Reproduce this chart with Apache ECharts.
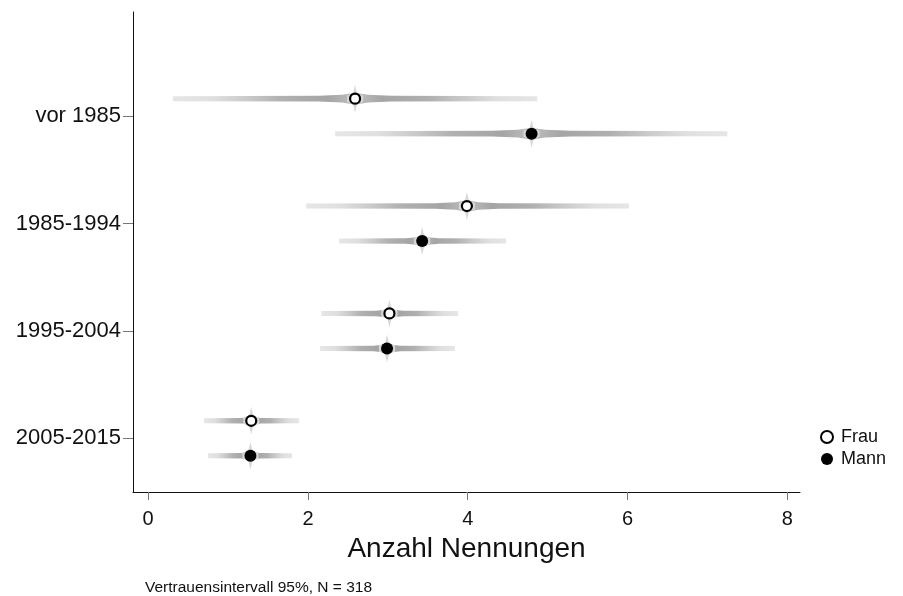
<!DOCTYPE html>
<html>
<head>
<meta charset="utf-8">
<script src="https://cdn.jsdelivr.net/npm/echarts@6/dist/echarts.min.js"></script>
<style>
  html, body { margin: 0; padding: 0; background: #fff; }
  #chart { width: 903px; height: 596px; }
</style>
</head>
<body>
<div id="chart"></div>
<script>
// Cohorts (top to bottom) and estimated mean number of mentions with interval bounds
const categories = ['vor 1985', '1985-1994', '1995-2004', '2005-2015'];
const frauEst = [2.59, 3.99, 3.02, 1.29];
const frauLo  = [0.31, 1.98, 2.17, 0.70];
const frauHi  = [4.87, 6.02, 3.88, 1.89];
const mannEst = [4.80, 3.43, 2.99, 1.28];
const mannLo  = [2.34, 2.39, 2.15, 0.75];
const mannHi  = [7.25, 4.48, 3.84, 1.80];
const xTicks = [0, 2, 4, 6, 8];
const catPos = [1, 2, 3, 4];

const FONT = '"Liberation Sans", Arial, sans-serif';
const SHIFT = 17.5; // vertical pixel shift between the two groups

// shading of an interval bar: pale at the bounds, darkest part toward the estimate
function gradient(reverse) {
  const stops = [
    { offset: 0.00, color: '#e6e6e6' },
    { offset: 0.22, color: '#dfdfdf' },
    { offset: 0.42, color: '#c8c8c8' },
    { offset: 0.60, color: '#b0b0b0' },
    { offset: 0.85, color: '#a5a5a5' },
    { offset: 0.95, color: '#b6b6b6' },
    { offset: 1.00, color: '#cbcbcb' }
  ];
  const s = reverse ? stops.map(d => ({ offset: 1 - d.offset, color: d.color })).reverse() : stops;
  return new echarts.graphic.LinearGradient(0, 0, 1, 0, s);
}

function makeBand(shift) {
  return function (params, api) {
    const cat = api.value(3);
    const pLo = api.coord([api.value(0), cat]);
    const pEst = api.coord([api.value(1), cat]);
    const pHi = api.coord([api.value(2), cat]);
    const y = pEst[1] + shift;
    const x = pEst[0], lx = pLo[0], rx = pHi[0];
    const L = x - lx, R = rx - x;
    const half = (from, d, sgn) => [
      [from, y - 2.5], [from + sgn * 0.8 * d, y - 2.8], [from + sgn * 0.93 * d, y - 3.8], [x, y - 6],
      [x, y + 6], [from + sgn * 0.93 * d, y + 3.8], [from + sgn * 0.8 * d, y + 2.8], [from, y + 2.5]
    ];
    const spike = [
      [x, y - 14], [x + 1.6, y - 7], [x + 3.5, y - 4.5], [x + 8, y - 3.2], [x + 8, y + 3.2], [x + 3.5, y + 4.5],
      [x + 1.6, y + 7], [x, y + 14], [x - 1.6, y + 7], [x - 3.5, y + 4.5], [x - 8, y + 3.2],
      [x - 8, y - 3.2], [x - 3.5, y - 4.5], [x - 1.6, y - 7]
    ];
    return {
      type: 'group',
      children: [
        { type: 'polygon', shape: { points: half(lx, L, 1) }, style: { fill: gradient(false) } },
        { type: 'polygon', shape: { points: half(rx, R, -1) }, style: { fill: gradient(true) } },
        { type: 'polygon', shape: { points: spike }, style: { fill: '#d8d8d8' } }
      ]
    };
  };
}

const frauBand = catPos.map((c, i) => [frauLo[i], frauEst[i], frauHi[i], c]);
const mannBand = catPos.map((c, i) => [mannLo[i], mannEst[i], mannHi[i], c]);
const frauPts = catPos.map((c, i) => [frauEst[i], c]);
const mannPts = catPos.map((c, i) => [mannEst[i], c]);

const chart = echarts.init(document.getElementById('chart'), null, { renderer: 'canvas' });
chart.setOption({
  animation: false,
  backgroundColor: '#ffffff',
  textStyle: { fontFamily: FONT },
  grid: { left: 133, right: 103, top: 12, bottom: 104, containLabel: false },
  xAxis: {
    type: 'value',
    min: -0.19,
    max: 8.16,
    name: 'Anzahl Nennungen',
    nameLocation: 'middle',
    nameGap: 43,
    nameTextStyle: { fontSize: 28, color: '#111', fontFamily: FONT },
    axisLine: { show: true, lineStyle: { color: '#111', width: 1 } },
    axisTick: { show: true, customValues: xTicks, length: 8, lineStyle: { color: '#777' } },
    axisLabel: { customValues: xTicks, fontSize: 20, color: '#111', margin: 17, fontFamily: FONT },
    splitLine: { show: false }
  },
  yAxis: {
    type: 'value',
    inverse: true,
    min: 0.03,
    max: 4.5,
    axisLine: { show: true, onZero: false, lineStyle: { color: '#111', width: 1 } },
    axisTick: { show: true, customValues: catPos, length: 10, lineStyle: { color: '#777' } },
    axisLabel: {
      customValues: catPos,
      formatter: v => categories[Math.round(v) - 1] || '',
      fontSize: 22, color: '#111', margin: 12, fontFamily: FONT
    },
    splitLine: { show: false }
  },
  legend: {
    orient: 'vertical',
    left: 815,
    top: 423,
    itemWidth: 18,
    itemHeight: 12,
    itemGap: 4,
    textStyle: { fontSize: 18, color: '#111', fontFamily: FONT },
    data: [
      { name: 'Frau', icon: 'circle' },
      { name: 'Mann', icon: 'circle' }
    ]
  },
  graphic: [{
    type: 'text',
    left: 145,
    top: 580,
    style: { text: 'Vertrauensintervall 95%, N = 318', fontSize: 15.5, fill: '#111', fontFamily: FONT }
  }],
  series: [
    { type: 'custom', name: 'FrauBand', renderItem: makeBand(-SHIFT), data: frauBand, encode: { x: [0, 1, 2], y: 3 }, z: 1, silent: true },
    { type: 'custom', name: 'MannBand', renderItem: makeBand(SHIFT), data: mannBand, encode: { x: [0, 1, 2], y: 3 }, z: 1, silent: true },
    {
      type: 'scatter', name: 'Frau', data: frauPts, symbol: 'circle', symbolSize: 10,
      symbolOffset: [0, -SHIFT], z: 3,
      itemStyle: { color: '#ffffff', borderColor: '#000', borderWidth: 2.2, opacity: 1 }
    },
    {
      type: 'scatter', name: 'Mann', data: mannPts, symbol: 'circle', symbolSize: 12,
      symbolOffset: [0, SHIFT], z: 3,
      itemStyle: { color: '#000', opacity: 1 }
    }
  ]
});
</script>
</body>
</html>
